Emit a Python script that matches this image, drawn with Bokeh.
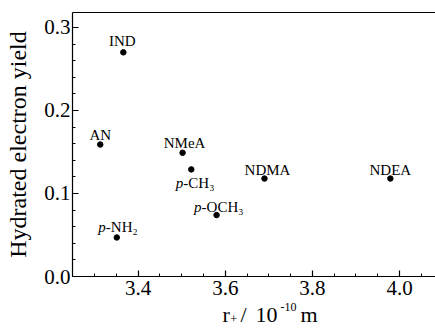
from bokeh.plotting import figure
from bokeh.layouts import column
from bokeh.models import (ColumnDataSource, FixedTicker, PrintfTickFormatter,
                          LinearAxis, Range1d)
from bokeh.core.properties import value
from bokeh.embed import file_html
from bokeh.resources import INLINE

# ---- data ----
names = ["IND", "AN", "NMeA", "p-CH₃", "p-OCH₃", "p-NH₂", "NDMA", "NDEA"]
radius = [3.366, 3.313, 3.502, 3.522, 3.580, 3.351, 3.690, 3.979]
yield_e = [0.270, 0.159, 0.149, 0.129, 0.074, 0.047, 0.118, 0.118]

x_major = [3.4, 3.6, 3.8, 4.0]
x_minor = [3.25, 3.3, 3.35, 3.45, 3.5, 3.55, 3.65, 3.7, 3.75, 3.85, 3.9, 3.95, 4.05]
y_major = [0.0, 0.1, 0.2, 0.3]
y_minor = [0.02, 0.04, 0.06, 0.08, 0.12, 0.14, 0.16, 0.18,
           0.22, 0.24, 0.26, 0.28]

x_title = ["r", "+", "/", "10", "-10", "m"]   # r₊ / 10⁻¹⁰ m

FONT = "Liberation Serif"
X0, X1, Y0, Y1 = 3.2493, 4.0826, 0.0, 0.318

p = figure(width=435, height=300, output_backend="svg", toolbar_location=None,
           x_range=Range1d(X0, X1), y_range=Range1d(Y0, Y1),
           min_border_left=72, min_border_right=0, min_border_top=12,
           min_border_bottom=24)
p.outline_line_color = None
p.grid.visible = False
p.background_fill_color = "white"
p.border_fill_color = "white"

bx = p.below[0]
ly = p.left[0]

# top frame line
top = LinearAxis(major_label_text_font_size="0px", major_tick_in=0, major_tick_out=0,
                 minor_tick_in=0, minor_tick_out=0, axis_line_color="black",
                 axis_line_width=1.2, major_label_standoff=0,
                 ticker=FixedTicker(ticks=[]))
p.add_layout(top, "above")

for ax in (bx, ly):
    ax.axis_line_width = 1.2
    ax.major_tick_in = 6
    ax.major_tick_out = 0
    ax.minor_tick_in = 3
    ax.minor_tick_out = 0
    ax.major_tick_line_width = 1.2
    ax.minor_tick_line_width = 1
    ax.major_label_text_font = FONT
    ax.major_label_text_font_size = "21px"
    ax.major_label_text_color = "black"
    ax.axis_label_text_font = FONT
    ax.axis_label_text_font_size = "24px"
    ax.axis_label_text_font_style = "normal"
    ax.axis_label_text_color = "black"

bx.ticker = FixedTicker(ticks=x_major, minor_ticks=x_minor)
bx.formatter = PrintfTickFormatter(format="%.1f")
bx.major_label_standoff = 4

ly.ticker = FixedTicker(ticks=y_major, minor_ticks=y_minor)
ly.formatter = PrintfTickFormatter(format="%.1f")
ly.major_label_standoff = 2
ly.axis_label = "Hydrated electron yield"
ly.axis_label_standoff = 10

src = ColumnDataSource(dict(x=radius, y=yield_e, name=names))
p.scatter("x", "y", source=src, size=5.5, color="black")

# point labels (screen-pixel offsets from each point)
plain = {"IND": (-1, -11), "AN": (0, -10), "NMeA": (2, -10),
         "NDMA": (3, -9), "NDEA": (0, -9)}
italic = {"p-CH₃": (-8, 14), "p-OCH₃": (-15, -8), "p-NH₂": (-11, -10)}

for i, n in enumerate(names):
    if n in plain:
        dx, dy = plain[n]
        p.text([radius[i]], [yield_e[i]], text=[n], x_offset=dx, y_offset=dy,
               text_align="center", text_baseline="middle",
               text_font=value(FONT), text_font_size="15px", text_color="black")
    else:
        dx, dy = italic[n]
        p.text([radius[i]], [yield_e[i]], text=["p"], x_offset=dx, y_offset=dy,
               text_align="right", text_baseline="middle",
               text_font=value(FONT), text_font_size="15px",
               text_font_style="italic", text_color="black")
        p.text([radius[i]], [yield_e[i]], text=[n[1:]], x_offset=dx, y_offset=dy,
               text_align="left", text_baseline="middle",
               text_font=value(FONT), text_font_size="15px", text_color="black")

# x-axis title strip below the plot; its frame spans the same x pixels as the
# main frame (72..435).
t = figure(width=435, height=29, output_backend="svg", toolbar_location=None,
           x_range=Range1d(72, 435), y_range=Range1d(329, 300),
           min_border_left=72, min_border_right=0,
           min_border_top=0, min_border_bottom=0)
t.axis.visible = False
t.grid.visible = False
t.outline_line_color = None
t.background_fill_color = "white"
t.border_fill_color = "white"

tx = [222, 229.5, 240, 255, 280, 300]               # left edges (px)
ty = [314, 318, 314, 314, 306, 314]                 # baselines (strip units)
ts = ["22px", "13px", "22px", "22px", "12px", "22px"]
tsrc = ColumnDataSource(dict(x=tx, y=ty, text=x_title, size=ts))
t.text(x="x", y="y", text="text", text_font_size="size", source=tsrc,
       text_font=value(FONT), text_align="left", text_baseline="alphabetic",
       text_color="black")

layout = column(p, t, spacing=0)
open("out.html", "w").write(file_html(layout, INLINE))
